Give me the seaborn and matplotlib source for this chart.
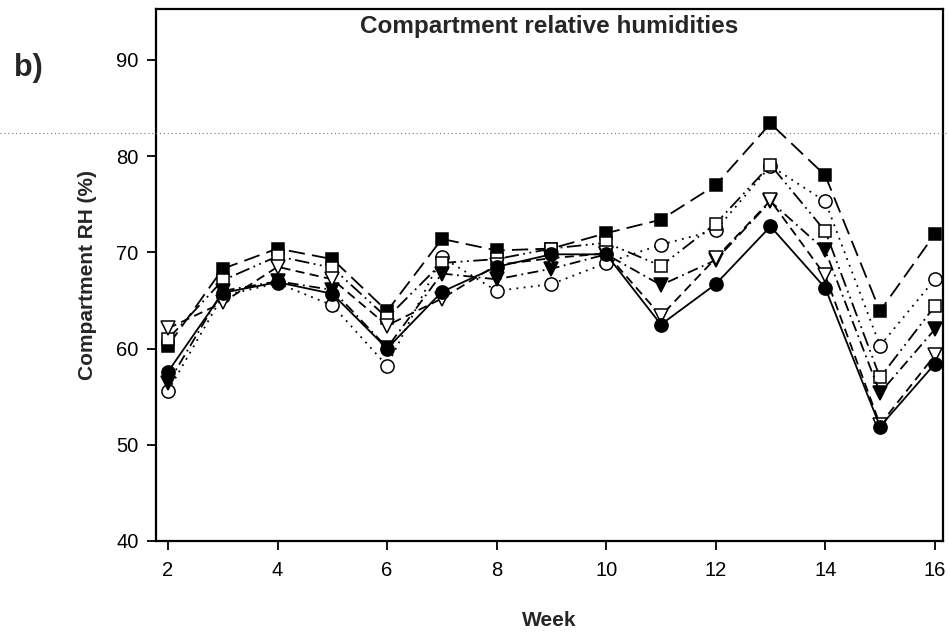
import matplotlib
matplotlib.use("Agg")
import matplotlib.pyplot as plt
from matplotlib.lines import Line2D
import seaborn as sns

# Weekly compartment relative humidity (%) for six compartments
weeks = [2, 3, 4, 5, 6, 7, 8, 9, 10, 11, 12, 13, 14, 15, 16]
rh_filled_square = [60.3, 68.3, 70.4, 69.3, 63.9, 71.4, 70.2, 70.4, 72.0, 73.4, 77.0, 83.4, 78.0, 63.9, 71.9]
rh_open_circle = [55.6, 65.5, 66.8, 64.5, 58.2, 69.5, 66.0, 66.7, 68.9, 70.8, 72.3, 79.0, 75.3, 60.3, 67.2]
rh_open_square = [61.0, 67.1, 69.6, 68.4, 63.2, 68.9, 69.3, 70.4, 71.0, 68.6, 73.0, 79.1, 72.2, 57.0, 64.4]
rh_filled_tri = [56.4, 66.0, 67.0, 66.1, 60.1, 67.8, 67.2, 68.3, 69.8, 66.6, 69.2, 75.3, 70.2, 55.4, 62.0]
rh_open_tri = [62.1, 64.8, 68.5, 67.2, 62.4, 65.2, 68.7, 69.4, 69.9, 63.4, 69.4, 75.4, 67.6, 52.1, 59.3]
rh_filled_circle = [57.6, 65.8, 66.9, 65.7, 60.0, 65.9, 68.5, 69.8, 69.8, 62.5, 66.7, 72.7, 66.3, 51.9, 58.4]

y_ticks = [40, 50, 60, 70, 80, 90]
x_ticks = [2, 4, 6, 8, 10, 12, 14, 16]

sns.set_style("ticks")
plt.rcParams["font.family"] = ["Liberation Sans", "DejaVu Sans"]

W, H = 949, 632
fig = plt.figure(figsize=(W / 100, H / 100), dpi=100)
ax = fig.add_axes([156 / W, 1 - 541 / H, (943 - 156) / W, (541 - 9) / H])

series = [
    (rh_filled_square, "s", "black", 8.5, (0, (9, 4))),
    (rh_open_circle, "o", "white", 9.5, (0, (1, 3))),
    (rh_open_square, "s", "white", 8.5, (0, (8, 2.5, 1, 2.5, 1, 2.5))),
    (rh_filled_tri, "v", "black", 10, (0, (6, 2.5, 1, 2.5))),
    (rh_open_tri, "v", "white", 10, (0, (5, 3))),
    (rh_filled_circle, "o", "black", 9.5, "-"),
]
for vals, marker, face, msize, ls in series:
    sns.lineplot(x=weeks, y=vals, ax=ax, color="black", marker=marker,
                 markersize=msize, markerfacecolor=face, markeredgecolor="black",
                 markeredgewidth=1.1, linestyle=ls, linewidth=1.3,
                 errorbar=None, legend=False)

ax.set_xlim(1.78, 16.15)
ax.set_ylim(40, 95.3)
ax.set_xticks(x_ticks)
ax.set_yticks(y_ticks)
ax.tick_params(axis="both", direction="out", length=6.5, width=1.3,
               labelsize=14.5, color="black", labelcolor="black")
ax.tick_params(axis="x", pad=8)
ax.tick_params(axis="y", pad=6)
for sp in ax.spines.values():
    sp.set_visible(True)
    sp.set_linewidth(1.6)
    sp.set_color("black")

ax.set_xlabel("Week", fontsize=15, fontweight="bold", labelpad=22)
ax.set_ylabel("Compartment RH (%)", fontsize=15, fontweight="bold", labelpad=14)
ax.text(0.5, 0.967, "Compartment relative humidities", transform=ax.transAxes,
        ha="center", va="center", fontsize=17.5, fontweight="bold")
fig.text(28 / W, 1 - 68 / H, "b)", ha="center", va="center",
         fontsize=22, fontweight="bold")

# faint dotted rule running across the page
fig.add_artist(Line2D([0, 1], [1 - 133 / H, 1 - 133 / H], transform=fig.transFigure,
                      color="#777777", linewidth=0.8, linestyle=(0, (1, 2.5))))

fig.savefig("out.png", dpi=100)
